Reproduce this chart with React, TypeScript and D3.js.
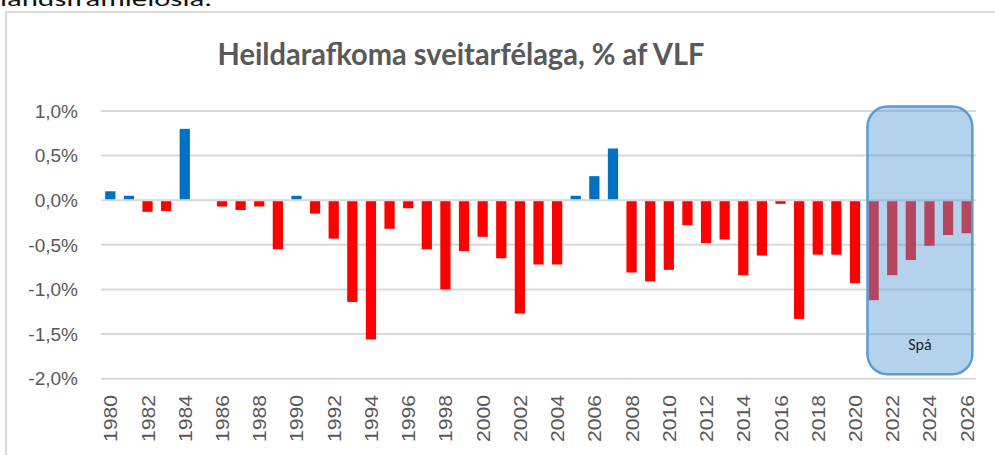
import React from 'react';
import * as d3 from 'd3';

const years: number[] = [
  1980, 1981, 1982, 1983, 1984, 1985, 1986, 1987, 1988, 1989,
  1990, 1991, 1992, 1993, 1994, 1995, 1996, 1997, 1998, 1999,
  2000, 2001, 2002, 2003, 2004, 2005, 2006, 2007, 2008, 2009,
  2010, 2011, 2012, 2013, 2014, 2015, 2016, 2017, 2018, 2019,
  2020, 2021, 2022, 2023, 2024, 2025, 2026,
];

// heildarafkoma, % af VLF
const values: number[] = [
  0.10, 0.05, -0.13, -0.12, 0.80, 0.0, -0.07, -0.11, -0.07, -0.55,
  0.05, -0.15, -0.43, -1.14, -1.56, -0.32, -0.09, -0.55, -1.0, -0.57,
  -0.41, -0.65, -1.27, -0.72, -0.72, 0.05, 0.27, 0.58, -0.81, -0.91,
  -0.78, -0.28, -0.48, -0.44, -0.84, -0.62, -0.04, -1.33, -0.61, -0.61,
  -0.93, -1.12, -0.84, -0.67, -0.51, -0.39, -0.37,
];

const yTicks: number[] = [1.0, 0.5, 0.0, -0.5, -1.0, -1.5, -2.0];
const forecastYears: number[] = [2021, 2026];

const title = 'Heildarafkoma sveitarfélaga, % af VLF';

const W = 995;
const H = 455;

export default function App() {
  const x = d3.scaleBand<number>()
    .domain(years)
    .range([101, 976])
    .paddingInner(0.45)
    .paddingOuter(0.225);

  const y = d3.scaleLinear().domain([-2, 1]).range([378.7, 111]);

  const fmt = (v: number) => d3.format('.1f')(v).replace('−', '-').replace('.', ',') + '%';

  const boxX0 = (x(forecastYears[0]) as number) - 1;
  const boxX1 = (x(forecastYears[1]) as number) + x.bandwidth() + 0.5;
  const boxY0 = y(1.05);
  const boxY1 = y(-1.95);

  return (
    <svg width={W} height={H} style={{ position: 'absolute', left: 0, top: 0, display: 'block', background: '#fff' }}>
      <text x={0} y={6} fontFamily="Carlito, Calibri, 'Open Sans', sans-serif" fontSize={20} fill="#111"
        textLength={212} lengthAdjust="spacingAndGlyphs">landsframleiðsla.</text>

      {/* chart frame */}
      <rect x={6} y={12} width={1000} height={460} fill="#fff" stroke="#d9d9d9" strokeWidth={2} />

      <text x={461} y={65} textAnchor="middle" fontFamily="Lato, 'Open Sans', sans-serif" fontWeight="bold"
        fontSize={31} fill="#595959" textLength={487} lengthAdjust="spacingAndGlyphs">{title}</text>

      {/* gridlines */}
      {yTicks.map((t) => (
        <g key={t}>
          <line x1={101} x2={976} y1={y(t)} y2={y(t)} stroke="#d9d9d9" strokeWidth={2} />
          <text x={78} y={y(t)} dy="0.35em" textAnchor="end" fontFamily="'Liberation Sans', Arial, sans-serif"
            fontSize={19} fill="#595959">{fmt(t)}</text>
        </g>
      ))}

      {/* bars */}
      {years.map((yr, i) => {
        const v = values[i];
        if (v === 0) return null;
        return (
          <rect key={yr} x={x(yr)} width={x.bandwidth()}
            y={v > 0 ? y(v) : y(0) + 1} height={Math.abs(y(v) - y(0)) - 1}
            fill={v > 0 ? '#0070c0' : '#ff0000'} />
        );
      })}

      {/* x labels */}
      {years.filter((yr) => yr % 2 === 0).map((yr) => {
        const cx = (x(yr) as number) + x.bandwidth() / 2;
        return (
          <text key={yr} transform={`translate(${cx + 7},395) rotate(-90)`} textAnchor="end"
            fontFamily="'Liberation Sans', Arial, sans-serif" fontSize={19} fill="#595959"
            textLength={47} lengthAdjust="spacingAndGlyphs">{yr}</text>
        );
      })}

      {/* forecast box */}
      <rect x={boxX0} y={boxY0} width={boxX1 - boxX0} height={boxY1 - boxY0} rx={20} ry={20}
        fill="#5b9bd5" fillOpacity={0.45} stroke="#5b9bd5" strokeWidth={2.5} />
      <text x={(boxX0 + boxX1) / 2} y={350} textAnchor="middle" fontFamily="Carlito, Calibri, 'Open Sans', sans-serif"
        fontSize={16} fill="#222">Spá</text>
    </svg>
  );
}
